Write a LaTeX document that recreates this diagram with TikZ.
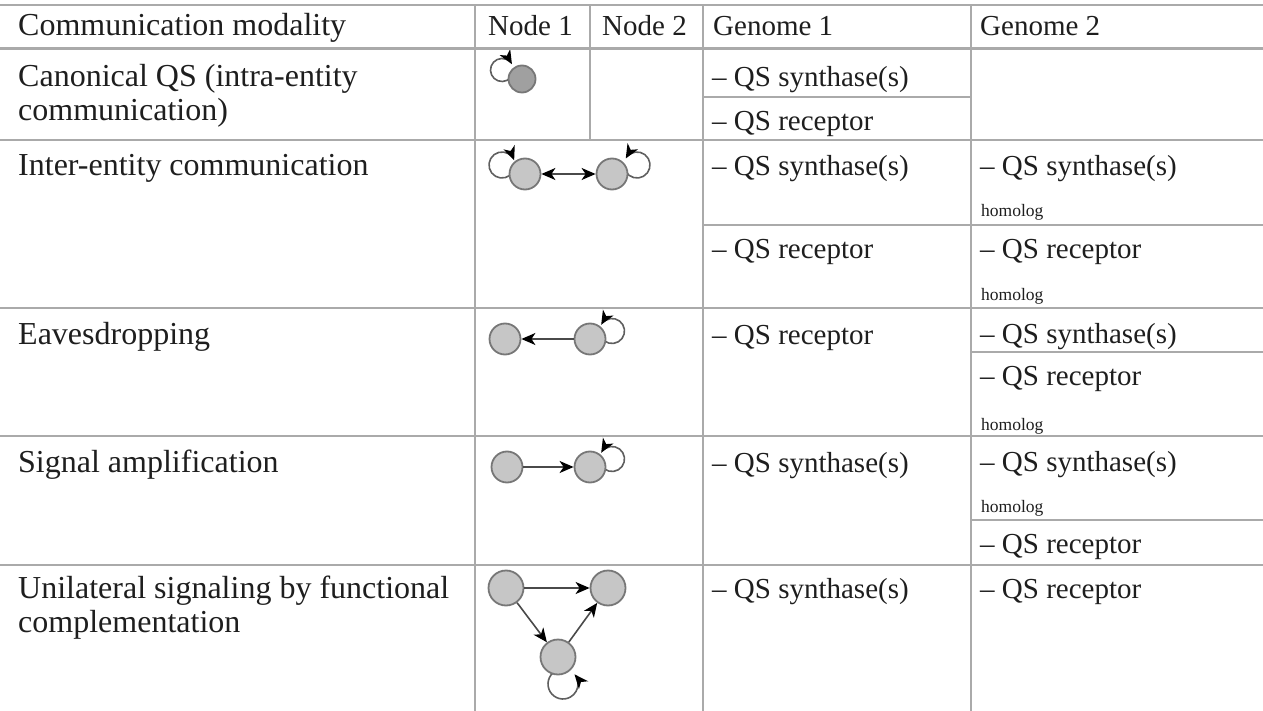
\documentclass[tikz,border=0pt]{standalone}
\usepackage{fontspec}
\setmainfont{Liberation Serif}
\usetikzlibrary{arrows.meta,calc}
\pgfdeclarelayer{bg}
\pgfsetlayers{bg,main}
\definecolor{rulec}{HTML}{AAAAAA}
\definecolor{nodefill}{HTML}{C6C6C6}
\definecolor{nodedark}{HTML}{A0A0A0}
\definecolor{nodeedge}{HTML}{777777}
\definecolor{arrowc}{HTML}{4A4A4A}
\definecolor{textc}{HTML}{1E1E1E}
\begin{document}
\begin{tikzpicture}[x=1pt,y=1pt,
  rulel/.style={draw=rulec, line width=1.5pt},
  big/.style={font=\fontsize{32}{34}\selectfont, anchor=base west, inner sep=0pt, text=textc},
  txt/.style={font=\fontsize{29}{34}\selectfont, anchor=base west, inner sep=0pt, text=textc},
  small/.style={font=\fontsize{17.5}{20}\selectfont, anchor=base west, inner sep=0pt, text=textc},
  qnode/.style={circle, fill=nodefill, draw=nodeedge, line width=1.8pt, inner sep=0pt},
  arr/.style={draw=arrowc, line width=1.6pt, -{Stealth[length=14pt,width=12pt,inset=4pt,color=black]}},
  looparr/.style={draw=nodeedge!80!black, line width=1.6pt, -{Stealth[length=14pt,width=12pt,inset=4pt,color=black]}},
  arrboth/.style={draw=arrowc, line width=1.6pt, {Stealth[length=14pt,width=12pt,inset=4pt,color=black]}-{Stealth[length=14pt,width=12pt,inset=4pt,color=black]}},
]
\useasboundingbox (0,0) rectangle (1263,-711);

% rules
\draw[draw=rulec, line width=2pt] (0,-5) -- (1263,-5);
\draw[draw=rulec, line width=3pt] (0,-49) -- (1263,-49);
\foreach \yy in {140,308,436,565} \draw[rulel] (0,-\yy) -- (1263,-\yy);
\draw[rulel] (475,-5) -- (475,-711);
\draw[rulel] (703,-5) -- (703,-711);
\draw[rulel] (971,-5) -- (971,-711);
\draw[rulel] (590,-5) -- (590,-140);
\draw[rulel] (703,-97) -- (971,-97);
\draw[rulel] (703,-225) -- (1263,-225);
\draw[rulel] (971,-352) -- (1263,-352);
\draw[rulel] (971,-520) -- (1263,-520);

% header
\node[big] (h1) at (18,-36) {Communication modality};
\node[txt] (h2) at (488,-36) {Node 1};
\node[txt] (h3) at (602,-36) {Node 2};
\node[txt] (h4) at (713,-36) {Genome 1};
\node[txt] (h5) at (980,-36) {Genome 2};

% row 1
\node[big] (l1a) at (18,-87) {Canonical QS (intra-entity};
\node[big] (l1b) at (18,-121) {communication)};
\node[txt] (g1a) at (712,-87) {-- QS synthase(s)};
\node[txt] (g1b) at (712,-131) {-- QS receptor};

% row 2
\node[big] (l2) at (18,-176) {Inter-entity communication};
\node[txt] (g2a) at (712,-176) {-- QS synthase(s)};
\node[txt] (g2b) at (980,-176) {-- QS synthase(s)};
\node[small] (g2c) at (981,-217) {homolog};
\node[txt] (g2d) at (712,-259) {-- QS receptor};
\node[txt] (g2e) at (980,-259) {-- QS receptor};
\node[small] (g2f) at (981,-300) {homolog};

% row 3
\node[big] (l3) at (18,-344) {Eavesdropping};
\node[txt] (g3a) at (712,-344) {-- QS receptor};
\node[txt] (g3b) at (980,-343) {-- QS synthase(s)};
\node[txt] (g3c) at (980,-385) {-- QS receptor};
\node[small] (g3d) at (981,-430) {homolog};

% row 4
\node[big] (l4) at (18,-472) {Signal amplification};
\node[txt] (g4a) at (712,-472) {-- QS synthase(s)};
\node[txt] (g4b) at (980,-471) {-- QS synthase(s)};
\node[small] (g4c) at (981,-512) {homolog};
\node[txt] (g4d) at (980,-553) {-- QS receptor};

% row 5
\node[big] (l5a) at (18,-598) {Unilateral signaling by functional};
\node[big] (l5b) at (18,-632) {complementation};
\node[txt] (g5a) at (712,-598) {-- QS synthase(s)};
\node[txt] (g5b) at (980,-598) {-- QS receptor};

% graph nodes
\node[qnode, fill=nodedark, minimum size=27pt] (a1) at (522,-79) {};
\node[qnode, minimum size=31pt] (b1) at (525,-174) {};
\node[qnode, minimum size=31pt] (b2) at (612,-174) {};
\node[qnode, minimum size=31pt] (c1) at (505,-339) {};
\node[qnode, minimum size=31pt] (c2) at (590,-339) {};
\node[qnode, minimum size=31pt] (d1) at (507,-467) {};
\node[qnode, minimum size=31pt] (d2) at (590,-467) {};
\node[qnode, minimum size=35pt] (e1) at (506,-588) {};
\node[qnode, minimum size=35pt] (e2) at (608,-588) {};
\node[qnode, minimum size=35pt] (e3) at (558,-657) {};

% connectors
\draw[arrboth] (b1) -- (b2);
\draw[arr] (c2) -- (c1);
\draw[arr] (d1) -- (d2);
\draw[arr] (e1) -- (e2);
\draw[arr] (e1) -- (e3);
\draw[arr] (e3) -- (e2);

% self loops (behind the nodes)
\begin{pgfonlayer}{bg}
\draw[looparr] ($(a1.center)+(-20,9)+(-20:11.5)$) arc[start angle=-20, end angle=-330, radius=11.5];
\draw[looparr] ($(b1.center)+(-23,9)+(-30:13)$) arc[start angle=-30, end angle=-339, radius=13];
\draw[looparr] ($(b2.center)+(25,9)+(210:13)$) arc[start angle=210, end angle=510, radius=13];
\draw[looparr] ($(c2.center)+(22,8)+(210:12.5)$) arc[start angle=210, end angle=510, radius=12.5];
\draw[looparr] ($(d2.center)+(22,8)+(210:12.5)$) arc[start angle=210, end angle=510, radius=12.5];
\draw[looparr] ($(e3.center)+(5,-27)+(120:15)$) arc[start angle=120, end angle=400, radius=15];
\end{pgfonlayer}
\end{tikzpicture}
\end{document}
